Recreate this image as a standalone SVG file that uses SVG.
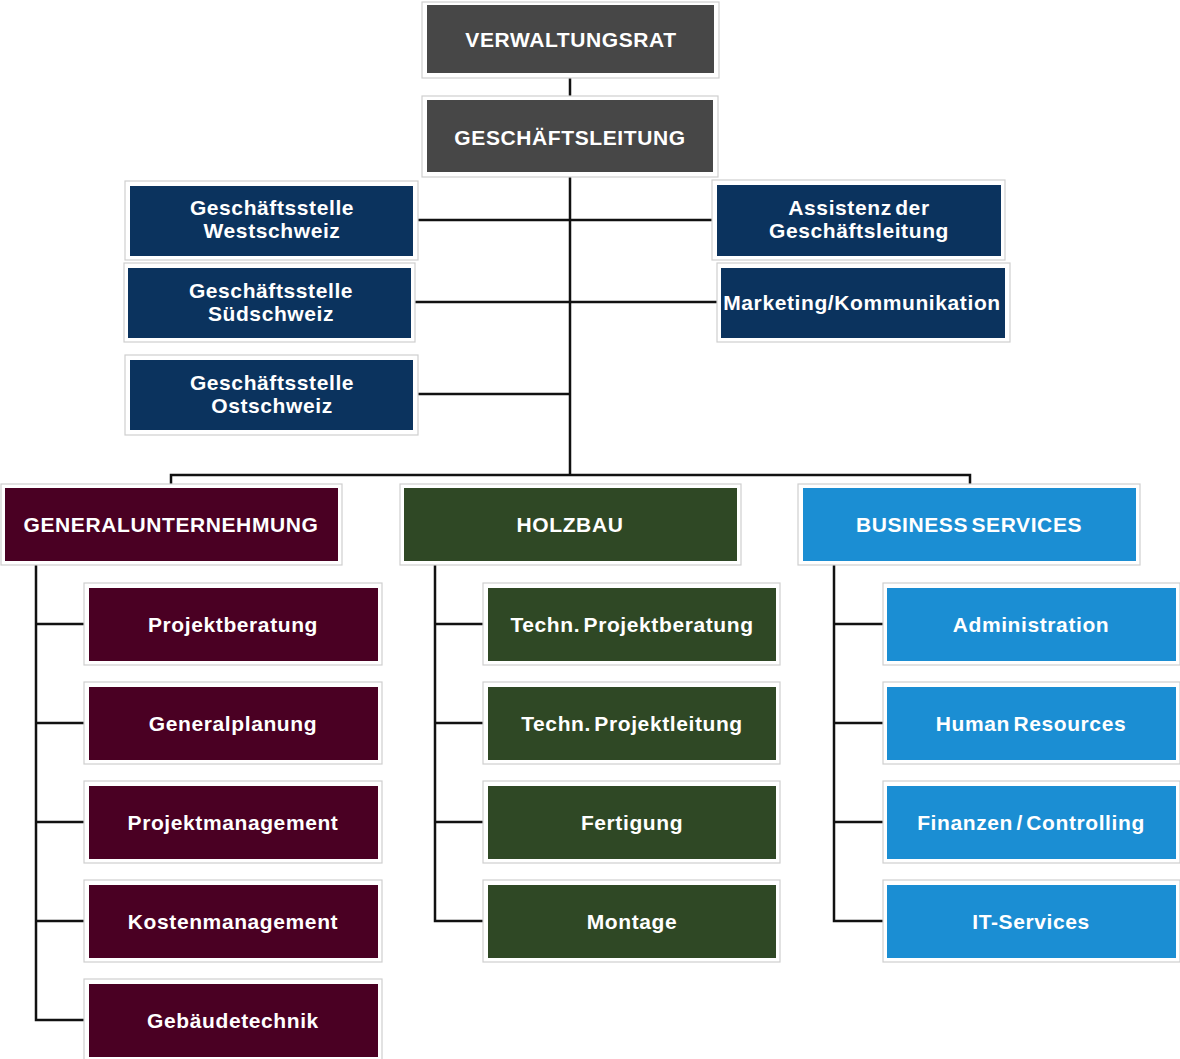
<svg xmlns="http://www.w3.org/2000/svg" width="1180" height="1059" viewBox="0 0 1180 1059">
<style>
.o{fill:#ffffff;stroke:#cfcfcf;stroke-width:1.2}
.g{fill:#474747}.n{fill:#0b335e}.m{fill:#4a0023}.h{fill:#2f4825}.b{fill:#1b8ed3}
text{font-family:"Liberation Sans",Arial,sans-serif;font-weight:bold;font-size:21px;fill:#ffffff;text-anchor:middle;letter-spacing:0.6px}
.c{fill:none;stroke:#111111;stroke-width:2.5}
</style>
<rect width="1180" height="1059" fill="#ffffff"/>
<g id="connectors">
<path class="c" d="M570 78V96"/>
<path class="c" d="M570 177V475"/>
<path class="c" d="M418 220H712"/>
<path class="c" d="M415 302H717"/>
<path class="c" d="M418 394H570"/>
<path class="c" d="M171 484V475H970V484"/>
<path class="c" d="M36 565V1020H84M36 624H84M36 723H84M36 822H84M36 921H84"/>
<path class="c" d="M435 565V921H483M435 624H483M435 723H483M435 822H483"/>
<path class="c" d="M834 565V921H883M834 624H883M834 723H883M834 822H883"/>
</g>
<g id="verwaltungsrat"><rect class="o" x="422" y="2" width="297" height="76"/><rect class="g" x="427" y="5" width="287" height="68"/><text x="571" y="47" letter-spacing="1.5">VERWALTUNGSRAT</text></g>
<g id="geschaeftsleitung"><rect class="o" x="422" y="96" width="296" height="81"/><rect class="g" x="427" y="100" width="286" height="72"/><text x="570" y="145" letter-spacing="1.2">GESCHÄFTSLEITUNG</text></g>
<g id="gs-west"><rect class="o" x="125" y="181" width="293" height="79"/><rect class="n" x="130" y="186" width="283" height="70"/><text x="272" y="215">Geschäftsstelle</text><text x="272" y="238">Westschweiz</text></g>
<g id="gs-sued"><rect class="o" x="124" y="263" width="291" height="79"/><rect class="n" x="128" y="268" width="283" height="70"/><text x="271" y="298">Geschäftsstelle</text><text x="271" y="321">Südschweiz</text></g>
<g id="gs-ost"><rect class="o" x="125" y="355" width="293" height="80"/><rect class="n" x="130" y="360" width="283" height="70"/><text x="272" y="390">Geschäftsstelle</text><text x="272" y="413">Ostschweiz</text></g>
<g id="assistenz"><rect class="o" x="712" y="180" width="293" height="80"/><rect class="n" x="717" y="185" width="284" height="71"/><text x="859" y="215" word-spacing="-3">Assistenz der</text><text x="859" y="238">Geschäftsleitung</text></g>
<g id="marketing"><rect class="o" x="717" y="263" width="293" height="79"/><rect class="n" x="721" y="268" width="284" height="70"/><text x="862" y="310">Marketing/Kommunikation</text></g>
<g id="generalunternehmung"><rect class="o" x="1" y="484" width="341" height="81"/><rect class="m" x="5" y="488" width="333" height="73"/><text x="171" y="532" letter-spacing="0.9">GENERALUNTERNEHMUNG</text></g>
<g id="holzbau"><rect class="o" x="400" y="484" width="341" height="81"/><rect class="h" x="404" y="488" width="333" height="73"/><text x="570" y="532" letter-spacing="0.8">HOLZBAU</text></g>
<g id="business-services"><rect class="o" x="798" y="484" width="342" height="81"/><rect class="b" x="803" y="488" width="333" height="73"/><text x="969" y="532" letter-spacing="0.8" word-spacing="-3">BUSINESS SERVICES</text></g>
<g id="projektberatung"><rect class="o" x="84" y="583" width="298" height="82"/><rect class="m" x="89" y="588" width="289" height="73"/><text x="233" y="632">Projektberatung</text></g>
<g id="generalplanung"><rect class="o" x="84" y="682" width="298" height="82"/><rect class="m" x="89" y="687" width="289" height="73"/><text x="233" y="731">Generalplanung</text></g>
<g id="projektmanagement"><rect class="o" x="84" y="781" width="298" height="82"/><rect class="m" x="89" y="786" width="289" height="73"/><text x="233" y="830">Projektmanagement</text></g>
<g id="kostenmanagement"><rect class="o" x="84" y="880" width="298" height="82"/><rect class="m" x="89" y="885" width="289" height="73"/><text x="233" y="929">Kostenmanagement</text></g>
<g id="gebaeudetechnik"><rect class="o" x="84" y="979" width="298" height="82"/><rect class="m" x="89" y="984" width="289" height="73"/><text x="233" y="1028">Gebäudetechnik</text></g>
<g id="techn-projektberatung"><rect class="o" x="483" y="583" width="297" height="82"/><rect class="h" x="488" y="588" width="288" height="73"/><text x="632" y="632" word-spacing="-3">Techn. Projektberatung</text></g>
<g id="techn-projektleitung"><rect class="o" x="483" y="682" width="297" height="82"/><rect class="h" x="488" y="687" width="288" height="73"/><text x="632" y="731" word-spacing="-3">Techn. Projektleitung</text></g>
<g id="fertigung"><rect class="o" x="483" y="781" width="297" height="82"/><rect class="h" x="488" y="786" width="288" height="73"/><text x="632" y="830">Fertigung</text></g>
<g id="montage"><rect class="o" x="483" y="880" width="297" height="82"/><rect class="h" x="488" y="885" width="288" height="73"/><text x="632" y="929">Montage</text></g>
<g id="administration"><rect class="o" x="883" y="583" width="297" height="82"/><rect class="b" x="887" y="588" width="289" height="73"/><text x="1031" y="632">Administration</text></g>
<g id="human-resources"><rect class="o" x="883" y="682" width="297" height="82"/><rect class="b" x="887" y="687" width="289" height="73"/><text x="1031" y="731" word-spacing="-3">Human Resources</text></g>
<g id="finanzen-controlling"><rect class="o" x="883" y="781" width="297" height="82"/><rect class="b" x="887" y="786" width="289" height="73"/><text x="1031" y="830" word-spacing="-3">Finanzen / Controlling</text></g>
<g id="it-services"><rect class="o" x="883" y="880" width="297" height="82"/><rect class="b" x="887" y="885" width="289" height="73"/><text x="1031" y="929">IT-Services</text></g>
</svg>
